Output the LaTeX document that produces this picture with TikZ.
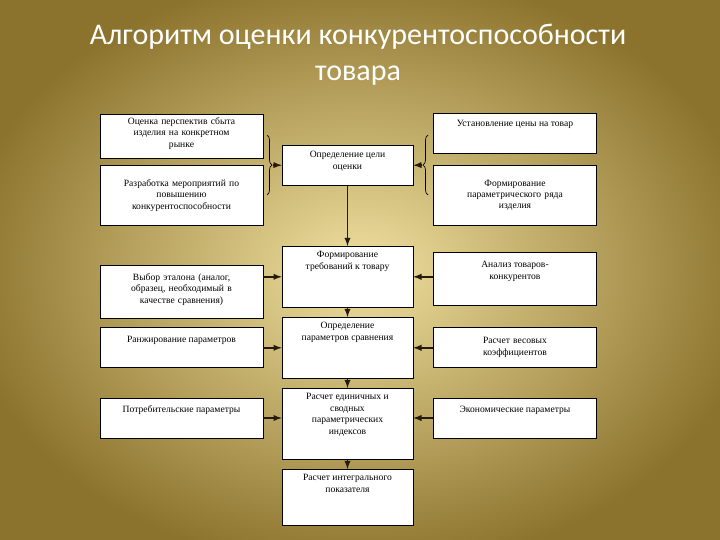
\documentclass[tikz,border=0pt]{standalone}
\usepackage{fontspec}
\setmainfont{Liberation Serif}
\newfontfamily\titlefont{Carlito}
\usetikzlibrary{decorations.pathreplacing,calc}
\definecolor{bgin}{RGB}{240,224,160}
\definecolor{bgout}{RGB}{140,115,45}
\begin{document}
\begin{tikzpicture}[x=1pt,y=-1pt,
  tf/.style={font=\fontsize{9.6}{11.4}\selectfont},
  box/.style={draw=black,fill=white,line width=0.6pt,minimum height=#1,inner sep=2pt,align=center,tf},
  lbox/.style={box=#1,text width=159pt,minimum width=163pt},
  cbox/.style={box=#1,text width=127pt,minimum width=131pt},
  arr/.style={-latex,line width=1.8pt,draw=black!80!brown}]
\useasboundingbox (0,0) rectangle (720,540);
\clip (0,0) rectangle (720,540);
\shade[inner color=bgin,outer color=bgout] (-40,-30) rectangle (760,570);
\node[text=white,font=\titlefont\fontsize{30}{36}\selectfont,align=center] (title) at (358,55) {Алгоритм оценки конкурентоспособности\\товара};
% left
\node[lbox=44pt,anchor=north] (L1) at (181.5,114) {};
\node[anchor=north,tf,align=center,text width=159pt] (L1t) at (181.5,114) {Оценка перспектив сбыта\\изделия на конкретном\\рынке};
\node[lbox=60pt,anchor=north] (L2) at (181.5,165) {Разработка мероприятий по\\повышению\\конкурентоспособности};
\node[lbox=53pt,anchor=north] (L3) at (181.5,265) {};
\node[anchor=north,tf,align=center,text width=159pt] (L3t) at (181.5,270) {Выбор эталона (аналог,\\образец, необходимый в\\качестве сравнения)};
\node[lbox=40pt,anchor=north] (L4) at (181.5,327) {};
\node[tf] (L4t) at (181.5,340) {Ранжирование параметров};
\node[lbox=40pt,anchor=north] (L5) at (181.5,398) {};
\node[tf] (L5t) at (181.5,410) {Потребительские параметры};
% center
\node[cbox=40pt,anchor=north] (C1) at (347.5,145) {};
\node[anchor=north,tf,align=center] (C1t) at (347.5,148) {Определение цели\\оценки};
\node[cbox=61pt,anchor=north] (C2) at (347.5,246) {};
\node[anchor=north,tf,align=center] (C2t) at (347.5,248) {Формирование\\требований к товару};
\node[cbox=61pt,anchor=north] (C3) at (347.5,317) {};
\node[anchor=north,tf,align=center] (C3t) at (347.5,319) {Определение\\параметров сравнения};
\node[cbox=71pt,anchor=north] (C4) at (347.5,388) {};
\node[anchor=north,tf,align=center] (C4t) at (347.5,390) {Расчет единичных и\\сводных\\параметрических\\индексов};
\node[cbox=56pt,anchor=north] (C5) at (347.5,469) {};
\node[anchor=north,tf,align=center] (C5t) at (347.5,471) {Расчет интегрального\\показателя};
% right
\node[lbox=40pt,anchor=north] (R1) at (515,113) {};
\node[anchor=north,tf] (R1t) at (515,117) {Установление цены на товар};
\node[lbox=60pt,anchor=north] (R2) at (515,165) {Формирование\\параметрического ряда\\изделия};
\node[lbox=53pt,anchor=north] (R3) at (515,252) {};
\node[anchor=north,tf,align=center] (R3t) at (515,258) {Анализ товаров-\\конкурентов};
\node[lbox=40pt,anchor=north] (R4) at (515,327) {Расчет весовых\\коэффициентов};
\node[lbox=40pt,anchor=north] (R5) at (515,398) {};
\node[tf] (R5t) at (515,410) {Экономические параметры};
% braces
\draw[line width=0.7pt,decorate,decoration={brace,amplitude=5pt}] (267,135) -- (267,195);
\draw[line width=0.7pt,decorate,decoration={brace,amplitude=5pt}] (428,195) -- (428,135);
\coordinate (bl) at (273,165);
\coordinate (br) at (422,165);
\draw[arr] (bl) -- (C1.west);
\draw[arr] (br) -- (C1.east);
\draw[arr] (C1) -- (C2);
\draw[arr] (C2) -- (C3);
\draw[arr] (C3) -- (C4);
\draw[arr] (C4) -- (C5);
\draw[arr] (L3.east|-C2.center) -- (C2.west);
\draw[arr] (L4.east|-C3.center) -- (C3.west);
\draw[arr] (L5.east|-0,418) -- (C4.west|-0,418);
\draw[arr] (R3.west|-C2.center) -- (C2.east);
\draw[arr] (R4.west|-C3.center) -- (C3.east);
\draw[arr] (R5.west|-0,418) -- (C4.east|-0,418);
\end{tikzpicture}
\end{document}
